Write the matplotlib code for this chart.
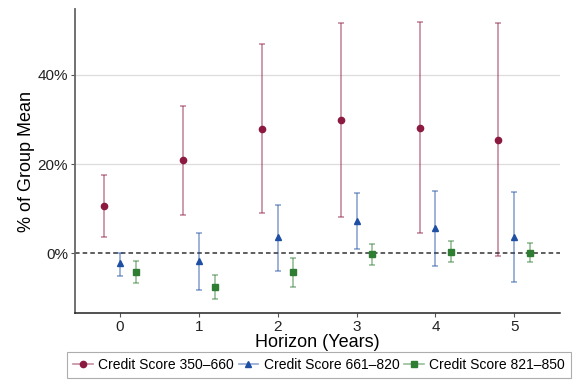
import numpy as np
import matplotlib
matplotlib.use("Agg")
import matplotlib.pyplot as plt
from matplotlib.lines import Line2D
from matplotlib.colors import to_rgba

plt.rcParams['font.family'] = ['Liberation Sans', 'DejaVu Sans']

horizons = [0, 1, 2, 3, 4, 5]
labels = ["Credit Score 350\u2013660", "Credit Score 661\u2013820", "Credit Score 821\u2013850"]

# point estimates and confidence bounds, % of group mean
red_mid = [10.6, 20.8, 27.9, 29.9, 28.1, 25.5]
red_hi = [17.5, 33.0, 47.0, 51.6, 51.8, 51.7]
red_lo = [3.7, 8.5, 8.9, 8.2, 4.4, -0.7]

blue_mid = [-2.3, -1.8, 3.5, 7.3, 5.7, 3.7]
blue_hi = [0.1, 4.4, 10.9, 13.4, 14.0, 13.8]
blue_lo = [-5.1, -8.2, -4.0, 0.8, -2.9, -6.6]

green_mid = [-4.2, -7.6, -4.2, -0.3, 0.3, 0.1]
green_hi = [-1.8, -5.0, -1.1, 2.0, 2.6, 2.2]
green_lo = [-6.7, -10.3, -7.6, -2.7, -2.0, -2.1]

series = [
    (red_mid, red_lo, red_hi, -0.2, "#8c1a40", "o", 4.5),
    (blue_mid, blue_lo, blue_hi, 0.0, "#1f4fa3", "^", 5),
    (green_mid, green_lo, green_hi, 0.2, "#2e7d32", "s", 5),
]

fig = plt.figure(figsize=(5.77, 3.8), dpi=100)
ax = fig.add_axes([0.130, 0.176, 0.8405, 0.800])

h = np.array(horizons, dtype=float)
handles = []
for (mid, lo, hi, off, col, mk, ms), lab in zip(series, labels):
    mid = np.array(mid); lo = np.array(lo); hi = np.array(hi)
    ax.errorbar(h + off, mid, yerr=[mid - lo, hi - mid], fmt='none',
                ecolor=col, alpha=0.55, elinewidth=1.1, capsize=2.5, capthick=1.1)
    ax.plot(h + off, mid, linestyle='none', marker=mk, color=col, markersize=ms, zorder=3)
    handles.append(Line2D([], [], color=to_rgba(col, 0.5), linewidth=1.2,
                          marker=mk, markersize=ms, markerfacecolor=col,
                          markeredgecolor=col, label=lab))

ax.axhline(0, color='#333333', linestyle=(0, (3, 2)), linewidth=1.1, zorder=1)
for yv in [20, 40]:
    ax.axhline(yv, color='#dddddd', linewidth=0.9, zorder=0)

ax.set_xlim(-0.57, 5.58)
ax.set_ylim(-13.5, 54.8)
ax.set_xticks(horizons)
ax.set_yticks([0, 20, 40])
ax.set_yticklabels(["0%", "20%", "40%"])
ax.tick_params(axis='both', labelsize=11, length=3, pad=2, color='#555555', labelcolor='#222222')
ax.spines['top'].set_visible(False)
ax.spines['right'].set_visible(False)
ax.spines['left'].set_color('#666666')
ax.spines['left'].set_linewidth(1.3)
ax.spines['bottom'].set_color('#222222')
ax.spines['bottom'].set_linewidth(1.1)

ax.set_xlabel("Horizon (Years)", fontsize=13, labelpad=0)
ax.set_ylabel("% of Group Mean", fontsize=13, labelpad=2)

leg = fig.legend(handles=handles, loc='upper center', bbox_to_anchor=(0.553, 0.074),
                 ncol=3, fontsize=10, frameon=True, fancybox=False,
                 edgecolor='#999999', handlelength=1.4, handletextpad=0.4,
                 columnspacing=0.35, borderpad=0.45, borderaxespad=0)
leg.get_frame().set_linewidth(0.8)

fig.savefig("out.png", dpi=100)
